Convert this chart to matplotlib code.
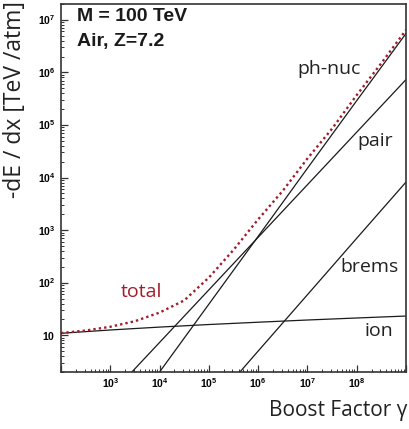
import numpy as np
import matplotlib
matplotlib.use("Agg")
import matplotlib.pyplot as plt
from matplotlib.ticker import LogLocator, FuncFormatter, NullFormatter

plt.rcParams['font.family'] = ['Open Sans', 'DejaVu Sans']
plt.rcParams['mathtext.fontset'] = 'custom'
plt.rcParams['mathtext.rm'] = 'Liberation Sans:bold'
plt.rcParams['mathtext.bf'] = 'Liberation Sans:bold'
plt.rcParams['mathtext.it'] = 'Liberation Sans:bold'

# energy loss in air for M = 100 TeV
g_ion = [1e2, 1e3, 1e4, 1e5, 1e6, 1e7, 1e8, 1e9]
ion = [10.9, 12.6, 14.3, 16.0, 17.7, 19.5, 21.3, 23.2]

g_pair = [1e3, 1e4, 1e5, 1e6, 1e7, 1e8, 1e9]
pair = [0.73, 7.3, 73, 730, 7.3e3, 7.3e4, 7.3e5]

g_phnuc = [1e3, 1e4, 1e5, 1e6, 1e7, 1e8, 1e9]
phnuc = [0.10, 2.0, 39, 760, 1.5e4, 2.9e5, 5.5e6]

g_brems = [1e5, 1e6, 1e7, 1e8, 1e9]
brems = [0.42, 5.0, 59, 700, 8.2e3]

g_total = [1e2, 10**2.5, 1e3, 10**3.5, 1e4, 10**4.5, 1e5, 10**5.5, 1e6,
           10**6.5, 1e7, 10**7.5, 1e8, 10**8.5, 1e9]
total = [11.0, 12.3, 14.5, 18.5, 27, 46, 125, 420, 1600,
         5600, 2.3e4, 8.5e4, 3.7e5, 1.5e6, 6.4e6]

red = '#a11d2b'

fig = plt.figure(figsize=(4.09, 4.29), dpi=100)
ax = fig.add_axes([61/409, 57/429, 345/409, 368/429])

ax.plot(g_ion, ion, color='#1a1a1a', lw=0.9)
ax.plot(g_pair, pair, color='#1a1a1a', lw=0.9)
ax.plot(g_phnuc, phnuc, color='#1a1a1a', lw=0.9)
ax.plot(g_brems, brems, color='#1a1a1a', lw=0.9)
ax.plot(g_total, total, color=red, lw=1.7, linestyle=(0, (1, 1.3)))

ax.set_xscale('log')
ax.set_yscale('log')
ax.set_xlim(1e2, 1e9)
ax.set_ylim(2, 2e7)

def yfmt(v, pos):
    n = int(round(np.log10(v)))
    if n == 1:
        return r'$\mathbf{10}$'
    return r'$\mathbf{10^{%d}}$' % n

def xfmt(v, pos):
    n = int(round(np.log10(v)))
    if n <= 2 or n >= 9:
        return ''
    return r'$\mathbf{10^{%d}}$' % n

ax.xaxis.set_major_locator(LogLocator(base=10, numticks=20))
ax.yaxis.set_major_locator(LogLocator(base=10, numticks=20))
ax.xaxis.set_minor_locator(LogLocator(base=10, subs=np.arange(2, 10), numticks=20))
ax.yaxis.set_minor_locator(LogLocator(base=10, subs=np.arange(2, 10), numticks=20))
ax.xaxis.set_major_formatter(FuncFormatter(xfmt))
ax.yaxis.set_major_formatter(FuncFormatter(yfmt))
ax.xaxis.set_minor_formatter(NullFormatter())
ax.yaxis.set_minor_formatter(NullFormatter())

ax.tick_params(which='both', direction='in', top=False, right=False,
               labelsize=7.5, color='#333333')
ax.tick_params(which='major', length=5, width=0.9, pad=4)
ax.tick_params(which='minor', length=2.5, width=0.7)
for s in ax.spines.values():
    s.set_linewidth(1.2)
    s.set_color('#333333')

ax.text(0.046, 0.965, 'M = 100 TeV', transform=ax.transAxes, ha='left', va='center',
        fontsize=14, family='Liberation Sans', fontweight='bold', color='#1a1a1a')
ax.text(0.046, 0.899, 'Air, Z=7.2', transform=ax.transAxes, ha='left', va='center',
        fontsize=14, family='Liberation Sans', fontweight='bold', color='#1a1a1a')

ax.text(0.778, 0.823, 'ph-nuc', transform=ax.transAxes, ha='center', va='center', fontsize=14, color='#222222')
ax.text(0.912, 0.628, 'pair', transform=ax.transAxes, ha='center', va='center', fontsize=14, color='#222222')
ax.text(0.893, 0.285, 'brems', transform=ax.transAxes, ha='center', va='center', fontsize=14, color='#222222')
ax.text(0.922, 0.111, 'ion', transform=ax.transAxes, ha='center', va='center', fontsize=14, color='#222222')
ax.text(0.233, 0.217, 'total', transform=ax.transAxes, ha='center', va='center', fontsize=14, color=red)

fig.text(0.037, 0.997, '-dE / dx [TeV /atm]', rotation=90, ha='center', va='top',
         fontsize=16.5, color='#222222')
fig.text(0.997, 0.044, 'Boost Factor γ', ha='right', va='center', fontsize=15, color='#222222')

fig.savefig('out.png', dpi=100)
